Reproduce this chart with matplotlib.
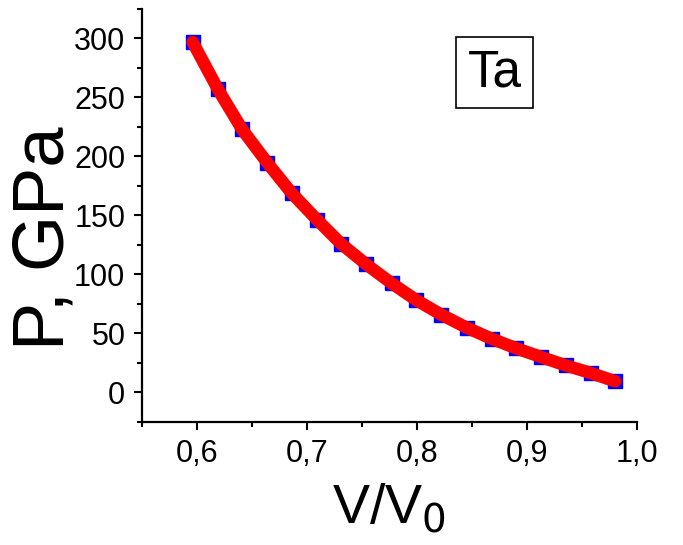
import numpy as np
import matplotlib
matplotlib.use("Agg")
import matplotlib.pyplot as plt
from matplotlib.ticker import MultipleLocator, FuncFormatter

plt.rcParams['font.family'] = ['Liberation Sans', 'DejaVu Sans']

# Data
v_ratio = [0.596, 0.619, 0.641, 0.664, 0.686, 0.709, 0.731, 0.754, 0.777,
           0.799, 0.822, 0.845, 0.868, 0.890, 0.913, 0.935, 0.958, 0.980]
pressure = [297, 257, 223, 194.5, 169, 146.5, 126, 108.5, 92.5,
            78.5, 66, 55, 45.5, 37.5, 30, 23, 16.5, 9.5]

fig = plt.figure(figsize=(6.83, 5.45), dpi=100)
ax = fig.add_axes([0.2079, 0.2257, 0.7248, 0.7578])

ax.plot(v_ratio, pressure, 's', color='blue', markersize=10, zorder=2)
ax.plot(v_ratio, pressure, '-', color='red', linewidth=9,
        solid_capstyle='round', zorder=3)

ax.set_xlim(0.55, 1.0)
ax.set_ylim(-25, 325)

ax.spines['top'].set_visible(False)
ax.spines['right'].set_visible(False)
for s in ['left', 'bottom']:
    ax.spines[s].set_linewidth(1.6)

ax.xaxis.set_major_locator(MultipleLocator(0.1))
ax.xaxis.set_minor_locator(MultipleLocator(0.05))
ax.yaxis.set_major_locator(MultipleLocator(50))
ax.yaxis.set_minor_locator(MultipleLocator(25))
ax.xaxis.set_major_formatter(FuncFormatter(lambda v, p: f"{v:.1f}".replace('.', ',')))

ax.tick_params(which='major', direction='out', length=6, width=1.5,
               labelsize=22, pad=6)
ax.tick_params(which='minor', direction='out', length=3.5, width=1.5)

ax.set_xlabel('V/V$_0$', fontsize=40)
ax.xaxis.set_label_coords(0.5, -0.145)
ax.set_ylabel('P, GPa', fontsize=52)
ax.yaxis.set_label_coords(-0.128, 0.445)

ax.text(0.712, 0.846, 'Ta', transform=ax.transAxes, fontsize=37,
        ha='center', va='center',
        bbox=dict(boxstyle='square,pad=0.22', facecolor='white',
                  edgecolor='black', linewidth=1.2))

fig.savefig('out.png', dpi=100)
